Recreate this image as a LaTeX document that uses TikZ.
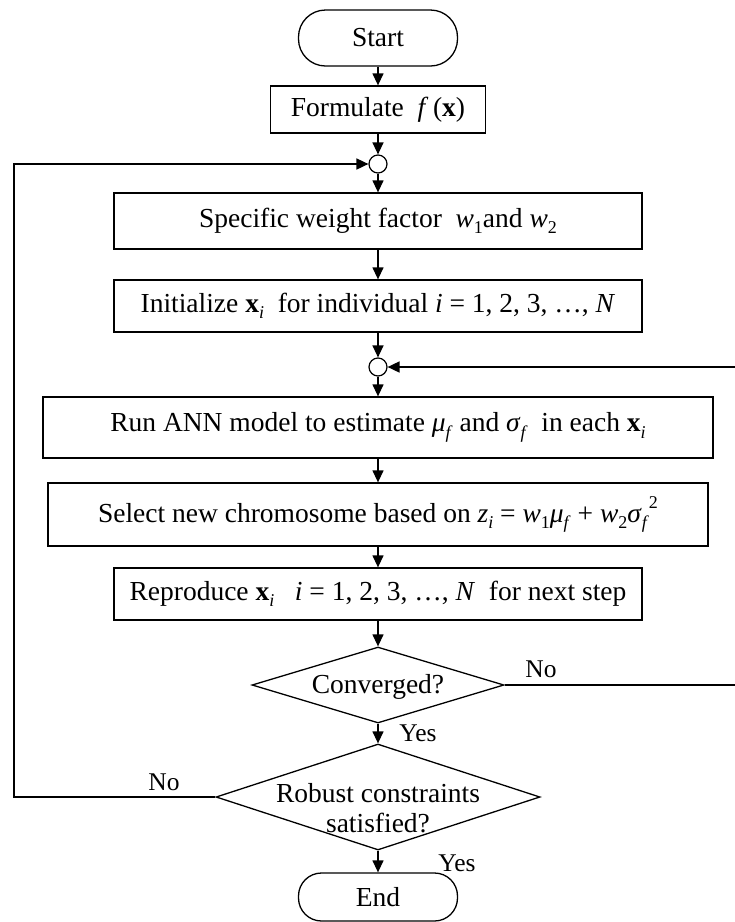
\documentclass[tikz,border=0pt]{standalone}
\usepackage{fontspec}
\setmainfont{Liberation Serif}
\usetikzlibrary{shapes.geometric,arrows.meta}
\newcommand\mainfs{\fontsize{27.5}{30}\selectfont}
\newcommand\labfs{\fontsize{25.5}{28}\selectfont}
\newcommand\vx{\textbf{x}}
\newcommand\sub[1]{\raisebox{-0.5ex}{\fontsize{18}{18}\selectfont #1}}
\newcommand\supr[1]{\raisebox{1.1ex}{\fontsize{18}{18}\selectfont #1}}
\begin{document}
\begin{tikzpicture}[x=1pt,y=-1pt,
  box/.style={draw, line width=1.3pt, rectangle, inner sep=0pt, font=\mainfs},
  term/.style={box, minimum width=159},
  junc/.style={draw, circle, line width=1.2pt, minimum size=18, inner sep=0pt},
  dia/.style={draw, diamond, line width=1.3pt, inner sep=0pt},
  txt/.style={font=\mainfs, align=center, inner sep=0pt},
  lab/.style={font=\labfs, inner sep=0pt},
  flow/.style={line width=1.3pt, -{Triangle[length=12pt,width=11pt]}},
  back/.style={line width=1.7pt, -{Triangle[length=12pt,width=11pt]}}]
\useasboundingbox (0,0) rectangle (735,922);
\clip (0,0) rectangle (735,922);

% main column
\node[term, minimum height=56, rounded corners=27pt] (start) at (378,38) {Start};
\node[box, minimum width=215, minimum height=47] (form) at (378,109.5)
  {Formulate \ \textit{f}\,(\vx)};
\node[junc] (c1) at (378,164) {};
\node[box, minimum width=528, minimum height=56] (spec) at (378,221)
  {Specific weight factor \ \textit{w}\sub{1}and \textit{w}\sub{2}};
\node[box, minimum width=528, minimum height=52] (init) at (378,306)
  {Initialize \vx\sub{\textit{i}}\ \ for individual \textit{i} = 1, 2, 3, …, \textit{N}};
\node[junc] (c2) at (378,367) {};
\node[box, minimum width=670, minimum height=61] (run) at (378,427.5)
  {Run ANN model to estimate \textit{μ}\sub{\textit{f}} and \textit{σ}\sub{\textit{f}}\ \ in each \vx\sub{\textit{i}}};
\node[box, minimum width=660, minimum height=63] (sel) at (378,514.5)
  {Select new chromosome based on \textit{z}\sub{\textit{i}} = \textit{w}\sub{1}\textit{μ}\sub{\textit{f}} + \textit{w}\sub{2}\textit{σ}\sub{\textit{f}}\supr{2}};
\node[box, minimum width=528, minimum height=52] (rep) at (378,594)
  {Reproduce \vx\sub{\textit{i}}\ \ \ \textit{i} = 1, 2, 3, …, \textit{N}\ \ for next step};

% decisions
\node[dia, minimum width=252, minimum height=76] (conv) at (378,685) {};
\node[txt] at (378,687) {Converged?};
\node[dia, minimum width=324, minimum height=106] (rob) at (378,797) {};
\node[txt] at (378,808) {Robust constraints\\satisfied?};

\node[term, minimum height=48, rounded corners=23pt] (stop) at (378,897) {End};

% forward flow
\draw[flow] (start) -- (form);
\draw[flow] (form) -- (c1);
\draw[flow] (c1) -- (spec);
\draw[flow] (spec) -- (init);
\draw[flow] (init) -- (c2);
\draw[flow] (c2) -- (run);
\draw[flow] (run) -- (sel);
\draw[flow] (sel) -- (rep);
\draw[flow] (rep) -- (conv);
\draw[flow] (conv) -- (rob);
\draw[flow] (rob) -- (stop);

% loop back when not converged
\coordinate (rb) at (741,685);
\coordinate (rt) at (741,367);
\draw[back] (conv.east) -- (rb) -- (rt) -- (c2.east);

% loop back when constraints fail
\coordinate (lb) at (14,797);
\coordinate (lt) at (14,164);
\draw[back] (rob.west) -- (lb) -- (lt) -- (c1.west);

% branch labels
\node[lab] at (541,669) {No};
\node[lab] at (418,733) {Yes};
\node[lab] at (164,782) {No};
\node[lab] at (457,863) {Yes};
\end{tikzpicture}
\end{document}
